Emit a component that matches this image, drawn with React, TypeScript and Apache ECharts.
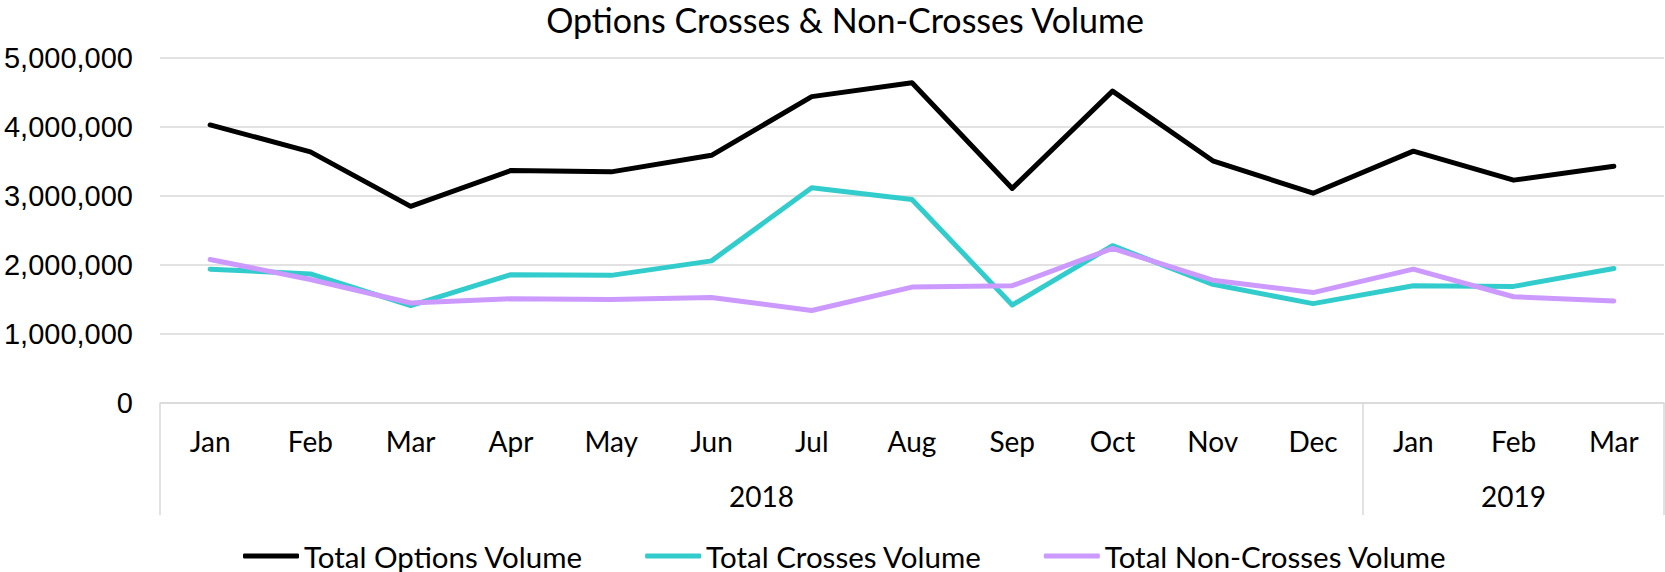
import React, { useEffect, useRef } from "react";
import * as echarts from "echarts";

const months = ["Jan", "Feb", "Mar", "Apr", "May", "Jun", "Jul", "Aug", "Sep", "Oct", "Nov", "Dec", "Jan", "Feb", "Mar"];
const yearLabels = ["2018", "2019"];
const yearCenters = [6, 13.5];
const yearBounds = [0, 12, 15];
const yTicks = [0, 1000000, 2000000, 3000000, 4000000, 5000000];

const totalOptions = [4030000, 3640000, 2850000, 3370000, 3350000, 3590000, 4440000, 4640000, 3110000, 4520000, 3510000, 3040000, 3650000, 3230000, 3430000];
const totalCrosses = [1940000, 1870000, 1410000, 1860000, 1850000, 2060000, 3120000, 2950000, 1420000, 2280000, 1720000, 1440000, 1700000, 1690000, 1950000];
const totalNonCrosses = [2080000, 1790000, 1450000, 1510000, 1500000, 1530000, 1340000, 1680000, 1700000, 2240000, 1780000, 1600000, 1940000, 1540000, 1480000];

const seriesNames = ["Total Options Volume", "Total Crosses Volume", "Total Non-Crosses Volume"];
const seriesColors = ["#000000", "#33CCCC", "#CC99FF"];

const CAL = "Lato, 'Open Sans', sans-serif";
const ARI = "'Liberation Sans', Arial, sans-serif";

export default function App() {
  const ref = useRef<HTMLDivElement>(null);
  useEffect(() => {
    document.body.style.margin = "0";
    const chart = echarts.init(ref.current!, null, { renderer: "svg" });
    const data = [totalOptions, totalCrosses, totalNonCrosses];
    chart.setOption({
      animation: false,
      backgroundColor: "#ffffff",
      title: {
        text: "Options Crosses & Non-Crosses Volume",
        left: 845,
        textAlign: "center",
        top: 2,
        padding: 0,
        textStyle: { fontFamily: CAL, fontSize: 34, fontWeight: "normal", color: "#000", lineHeight: 34 },
      },
      legend: {
        left: 243,
        top: 541,
        padding: 0,
        itemGap: 62,
        itemWidth: 56,
        itemHeight: 5,
        icon: "roundRect",
        textStyle: { fontFamily: CAL, fontSize: 29.5, color: "#000", lineHeight: 30 },
        data: seriesNames,
      },
      grid: { left: 160, right: 1, top: 58, bottom: 169, containLabel: false },
      xAxis: [
        {
          type: "category",
          data: months,
          boundaryGap: true,
          axisLine: { show: true, lineStyle: { color: "#D9D9D9", width: 1.5 } },
          axisTick: { show: false },
          axisLabel: { interval: 0, margin: 38, verticalAlign: "middle", fontFamily: CAL, fontSize: 28, color: "#000" },
        },
        {
          type: "value",
          min: 0,
          max: 15,
          position: "bottom",
          axisLine: { show: false },
          splitLine: { show: false },
          axisTick: { show: true, customValues: yearBounds, length: 112, lineStyle: { color: "#D9D9D9", width: 1.5 } },
          axisLabel: {
            customValues: yearCenters,
            margin: 93,
            verticalAlign: "middle",
            fontFamily: CAL,
            fontSize: 28,
            color: "#000",
            formatter: (v: number) => {
              const i = yearCenters.indexOf(v);
              return i >= 0 ? yearLabels[i] : "";
            },
          },
        },
      ],
      yAxis: {
        type: "value",
        min: yTicks[0],
        max: yTicks[yTicks.length - 1],
        interval: 1000000,
        axisLine: { show: false },
        axisTick: { show: false },
        splitLine: { lineStyle: { color: "#D9D9D9", width: 1.5 } },
        axisLabel: {
          margin: 27,
          fontFamily: ARI,
          fontSize: 29,
          color: "#000",
          formatter: (v: number) => v.toLocaleString("en-US"),
        },
      },
      series: data.map((d, i) => ({
        name: seriesNames[i],
        type: "line",
        xAxisIndex: 0,
        data: d,
        symbol: "none",
        color: seriesColors[i],
        lineStyle: { width: 5, color: seriesColors[i], cap: "round", join: "round" },
        itemStyle: { color: seriesColors[i] },
      })),
    });
    return () => chart.dispose();
  }, []);
  return <div ref={ref} style={{ width: 1665, height: 572 }} />;
}
